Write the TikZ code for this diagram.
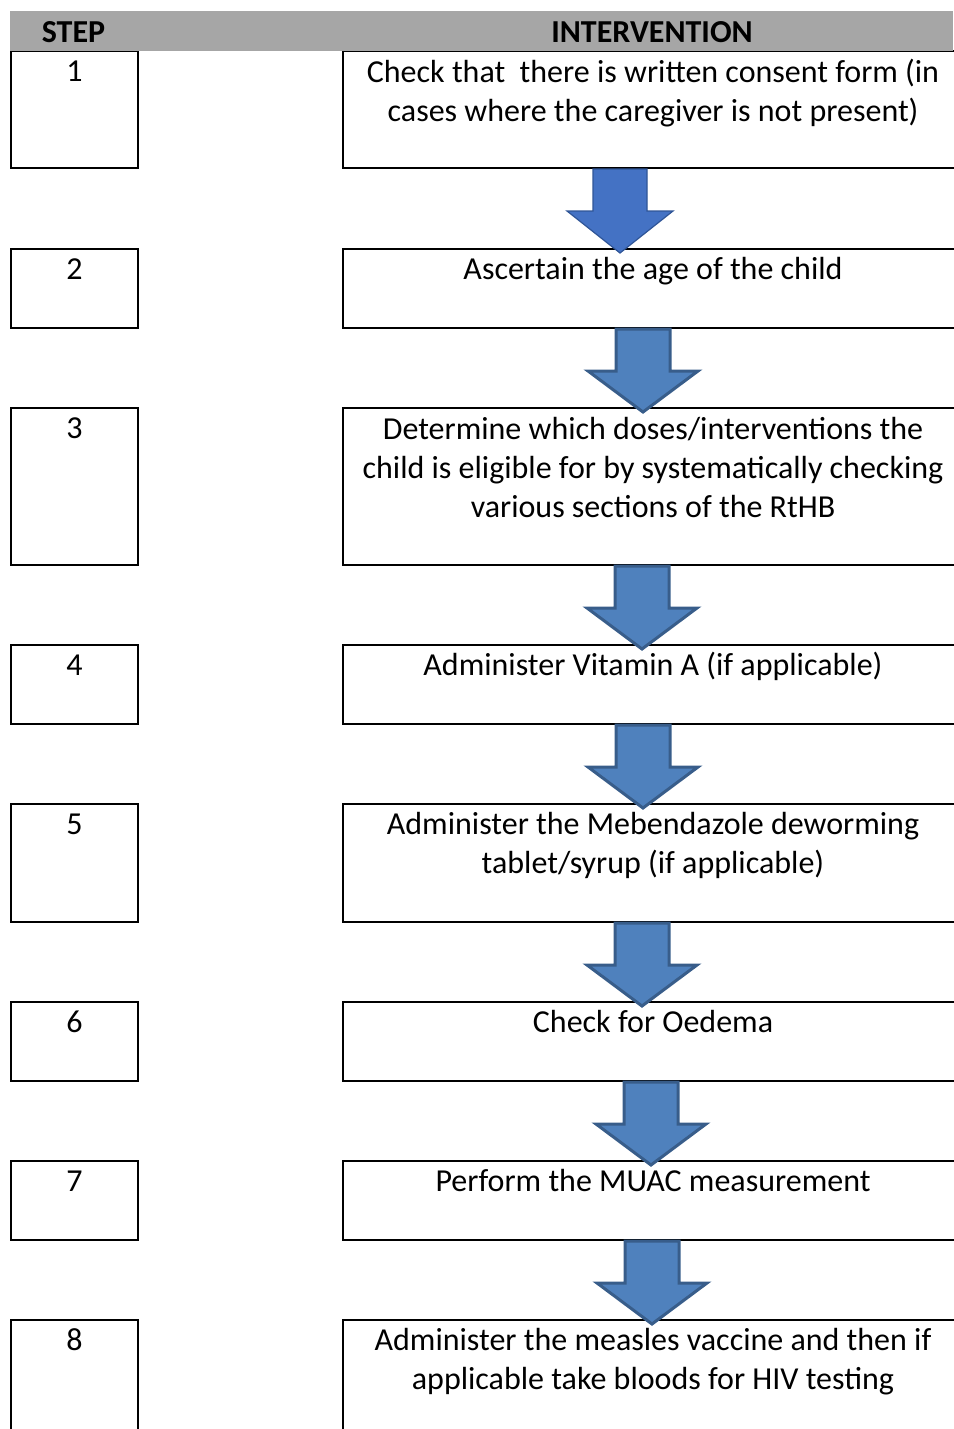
\documentclass[tikz,border=0pt]{standalone}
\usepackage{fontspec}
\setmainfont{Carlito}
\usetikzlibrary{calc}
\definecolor{headgray}{HTML}{A6A6A6}
\definecolor{blue1}{HTML}{4472C4}
\definecolor{blue1line}{HTML}{2F5597}
\definecolor{blue2}{HTML}{4F81BD}
\definecolor{blue2line}{HTML}{385D8A}

\tikzset{
  stepbox/.style={draw, line width=2pt, anchor=north west, inner sep=0pt, minimum width=127pt},
  intbox/.style={draw, line width=2pt, anchor=north west, inner sep=0pt, minimum width=620pt},
  boxtext/.style={anchor=north, inner sep=0pt, align=center, font=\fontsize{32}{39}\selectfont, execute at begin node=\strut},
  headtext/.style={anchor=base, inner sep=0pt, font=\fontsize{32}{39}\selectfont\bfseries},
  arrowfill/.style={fill=blue2, draw=blue2line, line width=3pt, line join=miter},
}

% block arrow: from box, to box, x of centre, half width of head
\newcommand\flowarrow[5][]{%
  \path[arrowfill,#1] let \p1=(#2.south), \p2=(#3.north) in
    (#4-27,\y1) -- (#4+27,\y1) -- (#4+27,\y1-42pt) -- (#4+#5,\y1-42pt)
    -- (#4,\y2-5pt) -- (#4-#5,\y1-42pt) -- (#4-27,\y1-42pt) -- cycle;}

\begin{document}
\begin{tikzpicture}[x=1pt,y=-1pt]
  \useasboundingbox (0,0) rectangle (953,1429);

  \foreach \n/\top/\hgt/\dy/\txt in {
    1/50/117/8.7/{Check that~ there is written consent form (in\\cases where the caregiver is not present)},
    2/248/79/3.7/{Ascertain the age of the child},
    3/407/157/9.7/{Determine which doses/interventions the\\child is eligible for by systematically checking\\various sections of the RtHB},
    4/644/79/3.7/{Administer Vitamin A (if applicable)},
    5/803/118/9.2/{Administer the Mebendazole deworming\\tablet/syrup (if applicable)},
    6/1001/79/3.7/{Check for Oedema},
    7/1160/79/3.7/{Perform the MUAC measurement},
    8/1319/140/9.2/{Administer the measles vaccine and then if\\applicable take bloods for HIV testing}}{
    \node[stepbox, minimum height=\hgt] (step\n) at (10,\top) {};
    \node[intbox, minimum height=\hgt] (int\n) at (342,\top) {};
    \node[boxtext] (stepnum\n) at ([yshift=-3.7pt]step\n.north) {\n};
    \node[boxtext] (inttext\n) at ([yshift=-\dy pt]int\n.north) {\txt};
  }

  % header band
  \fill[headgray] (10,11) rectangle (953,51);
  \node[headtext] (stephead) at (73.5,43) {STEP};
  \node[headtext] (inthead) at (652,43) {INTERVENTION};

  % arrows
  \flowarrow[fill=blue1, draw=blue1line, line width=1.2pt]{int1}{int2}{620}{53}
  \flowarrow{int2}{int3}{643}{55}
  \flowarrow{int3}{int4}{642}{55}
  \flowarrow{int4}{int5}{643}{55}
  \flowarrow{int5}{int6}{642}{55}
  \flowarrow{int6}{int7}{651}{55}
  \flowarrow{int7}{int8}{652}{55}

\end{tikzpicture}
\end{document}
